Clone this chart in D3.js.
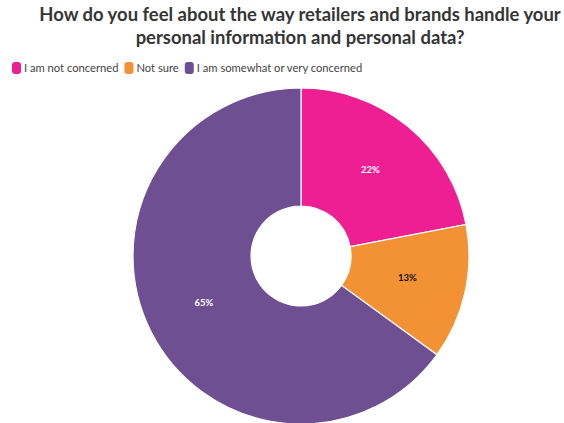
<!DOCTYPE html>
<html>
<head>
<meta charset="utf-8">
<script src="https://cdn.jsdelivr.net/npm/d3@7/dist/d3.min.js"></script>
<style>
  html, body { margin: 0; padding: 0; background: #fff; }
  svg { display: block; }
</style>
</head>
<body>
<svg id="chart" width="564" height="423"></svg>
<script>
// Survey answers and their shares (percent)
const categories = ["I am not concerned", "Not sure", "I am somewhat or very concerned"];
const values = [22, 13, 65];
const colors = ["#EE1F93", "#F39234", "#6E4F91"];
const labelColors = ["#ffffff", "#111111", "#ffffff"];
const titleLines = [
  "How do you feel about the way retailers and brands handle your",
  "personal information and personal data?"
];

const svg = d3.select("#chart");
const FONT = "Lato, 'Open Sans', sans-serif";

// Title: sized so the first line spans the available width
const titleSel = svg.selectAll("text.title")
  .data(titleLines)
  .join("text")
  .attr("class", "title")
  .attr("x", 300)
  .attr("y", (d, i) => 21 + i * 23)
  .attr("text-anchor", "middle")
  .attr("font-family", FONT)
  .attr("font-weight", 700)
  .attr("font-size", 20)
  .attr("fill", "#353535")
  .text(d => d);
const firstW = titleSel.nodes()[0].getComputedTextLength();
const titleSize = Math.min(21, 20 * 522 / firstW);
titleSel.attr("font-size", titleSize);

// Legend
const legend = svg.append("g").attr("transform", "translate(12,62)");
let lx = 0;
categories.forEach((c, i) => {
  const g = legend.append("g").attr("transform", `translate(${lx},0)`);
  g.append("rect")
    .attr("width", 9).attr("height", 12)
    .attr("rx", 3).attr("ry", 3)
    .attr("fill", colors[i]);
  const t = g.append("text")
    .attr("x", 12).attr("y", 10)
    .attr("font-family", FONT)
    .attr("font-size", 11.2)
    .attr("fill", "#444")
    .text(c);
  lx += 12 + t.node().getComputedTextLength() + 6;
});

// Donut
const cx = 301, cy = 256, outerR = 168, innerR = 50;
const pie = d3.pie().sort(null).value(d => d);
const arc = d3.arc().innerRadius(innerR).outerRadius(outerR);
const arcs = pie(values);

const g = svg.append("g").attr("transform", `translate(${cx},${cy})`);
g.selectAll("path")
  .data(arcs)
  .join("path")
  .attr("d", arc)
  .attr("fill", (d, i) => colors[i])
  .attr("stroke", "#fff")
  .attr("stroke-width", 1.2);

g.selectAll("text.val")
  .data(arcs)
  .join("text")
  .attr("class", "val")
  .attr("transform", d => `translate(${arc.centroid(d)})`)
  .attr("text-anchor", "middle")
  .attr("dy", "0.1em")
  .attr("font-family", FONT)
  .attr("font-weight", 700)
  .attr("font-size", 9.5)
  .attr("fill", (d, i) => labelColors[i])
  .text(d => d.data + "%");
</script>
</body>
</html>
